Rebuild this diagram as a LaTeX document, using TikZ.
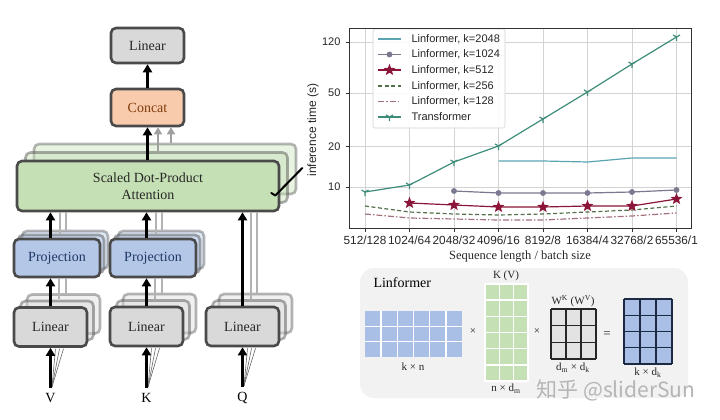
\documentclass[tikz,border=0pt]{standalone}
\usepackage{fontspec}
\setmainfont{Liberation Serif}
\newfontfamily\sansf{Liberation Sans}
\newfontfamily\cjk{Noto Sans CJK SC}
\usetikzlibrary{arrows.meta,calc,shadows}
\definecolor{bordc}{HTML}{4A4A4A}
\definecolor{lingray}{HTML}{D9D9D9}
\definecolor{concatc}{HTML}{F8CBAD}
\definecolor{concattext}{HTML}{843C0C}
\definecolor{sdpac}{HTML}{C5E0B4}
\definecolor{projc}{HTML}{B4C7E7}
\definecolor{projtext}{HTML}{1F3864}
\definecolor{gridc}{HTML}{D3D3D3}
\definecolor{c2048}{HTML}{5BA5B3}
\definecolor{c1024}{HTML}{7B7890}
\definecolor{c512}{HTML}{8B1538}
\definecolor{c256}{HTML}{52704A}
\definecolor{c128}{HTML}{A3717C}
\definecolor{ctr}{HTML}{3E8C7A}
\definecolor{panelc}{HTML}{F2F2F2}
\definecolor{matblue}{HTML}{A9BFE6}
\definecolor{matgreen}{HTML}{C5E0B4}
\definecolor{matgray}{HTML}{E3E3E3}
\definecolor{darkgrid}{HTML}{1C2A45}
\definecolor{grayarr}{HTML}{A0A0A0}
\definecolor{wmc}{HTML}{B5B5B5}
\pgfdeclareplotmark{fstar}{%
  \pgfpathmoveto{\pgfpointpolar{90}{\pgfplotmarksize}}%
  \pgfpathlineto{\pgfpointpolar{126}{0.42\pgfplotmarksize}}%
  \pgfpathlineto{\pgfpointpolar{162}{\pgfplotmarksize}}%
  \pgfpathlineto{\pgfpointpolar{198}{0.42\pgfplotmarksize}}%
  \pgfpathlineto{\pgfpointpolar{234}{\pgfplotmarksize}}%
  \pgfpathlineto{\pgfpointpolar{270}{0.42\pgfplotmarksize}}%
  \pgfpathlineto{\pgfpointpolar{306}{\pgfplotmarksize}}%
  \pgfpathlineto{\pgfpointpolar{342}{0.42\pgfplotmarksize}}%
  \pgfpathlineto{\pgfpointpolar{18}{\pgfplotmarksize}}%
  \pgfpathlineto{\pgfpointpolar{54}{0.42\pgfplotmarksize}}%
  \pgfpathclose\pgfusepathqfillstroke}
\pgfdeclareplotmark{tridown}{%
  \pgfpathmoveto{\pgfpointorigin}\pgfpathlineto{\pgfpointpolar{270}{\pgfplotmarksize}}%
  \pgfpathmoveto{\pgfpointorigin}\pgfpathlineto{\pgfpointpolar{30}{\pgfplotmarksize}}%
  \pgfpathmoveto{\pgfpointorigin}\pgfpathlineto{\pgfpointpolar{150}{\pgfplotmarksize}}%
  \pgfusepathqstroke}
\begin{document}
\begin{tikzpicture}[x=1pt,y=-1pt,
  lbox/.style={draw=bordc, line width=2.6pt, rounded corners=5pt, inner sep=0pt,
    font=\fontsize{14}{17}\selectfont, align=center, text=black!85},
  shad/.style 2 args={copy shadow={shadow xshift=#2, shadow yshift=#2, opacity=.4},
    copy shadow={shadow xshift=#1, shadow yshift=#1, opacity=.45}},
  arr/.style={line width=2.6pt, -{Triangle[length=8pt,width=9pt]}},
  garr/.style={line width=2.2pt, draw=grayarr, -{Triangle[length=7pt,width=8pt]}},
  gl/.style={line width=2pt, draw=grayarr!80},
  fan/.style={line width=.6pt, draw=black!60},
  lab/.style={font=\fontsize{14}{14}\selectfont},
  gridl/.style={draw=gridc, line width=.7pt},
  tick/.style={draw=black!80, line width=.7pt},
  sans10/.style={font=\sansf\fontsize{11}{11}\selectfont, text=black!85},
  sansx/.style={font=\sansf\fontsize{11.8}{11.8}\selectfont, text=black!85},
  sans11/.style={font=\sansf\fontsize{11}{11}\selectfont, text=black!85},
  series/.style={line width=1.2pt},
  mlab/.style={font=\fontsize{11}{11}\selectfont, text=black!85},
]
\useasboundingbox (0,0) rectangle (720,420);

% ---------------- left: Linformer multi-head attention ----------------
\node[lbox, fill=lingray, minimum width=73pt, minimum height=35pt] (lintop) at (147.5,45.5) {Linear};
\node[lbox, fill=concatc, text=concattext, minimum width=73pt, minimum height=37pt] (concat) at (147.5,107.5) {Concat};
\node[lbox, fill=sdpac, minimum width=262pt, minimum height=50pt, shad={8.5pt}{17pt}] (sdpa) at (148,186) {Scaled Dot-Product\\Attention};
\node[lbox, fill=projc, text=projtext, minimum width=86pt, minimum height=38pt, shad={4pt}{8pt}] (projV) at (57,258) {Projection};
\node[lbox, fill=projc, text=projtext, minimum width=86pt, minimum height=38pt, shad={4pt}{8pt}] (projK) at (153,258) {Projection};
\node[lbox, fill=lingray, minimum width=73pt, minimum height=39pt, shad={6.5pt}{13pt}] (linV) at (50.5,327) {Linear};
\node[lbox, fill=lingray, minimum width=73pt, minimum height=39pt, shad={6.5pt}{13pt}] (linK) at (146.5,326.5) {Linear};
\node[lbox, fill=lingray, minimum width=73pt, minimum height=39pt, shad={6.5pt}{13pt}] (linQ) at (242.5,326.5) {Linear};
\node[lab] (vlab) at (50.5,398) {V};
\node[lab] (klab) at (146.5,398) {K};
\node[lab] (qlab) at (242.5,398) {Q};

% gray copies of the connectors
\foreach \n/\p in {linV/projV, linK/projK}{
  \draw[gl] ($(\n.north)+(8.5,-7)$) -- ($(\n.north |- \p.south)+(8.5,0)$);
  \draw[gl] ($(\n.north)+(15,-12)$) -- ($(\n.north |- \p.south)+(15,0)$);
  \draw[gl] ($(\n.north |- \p.north)+(9,-4)$) -- ($(\n.north |- sdpa.south)+(9,0)$);
  \draw[gl] ($(\n.north |- \p.north)+(15.5,-8)$) -- ($(\n.north |- sdpa.south)+(15.5,0)$);
}
\draw[gl] ($(linQ.north)+(8,-7)$) -- ($(linQ.north |- sdpa.south)+(8,0)$);
\draw[gl] ($(linQ.north)+(14.5,-12)$) -- ($(linQ.north |- sdpa.south)+(14.5,0)$);
\draw[garr] ($(concat.south |- sdpa.north)+(10.5,-9)$) -- ($(concat.south)+(10.5,0)$);
\draw[garr] ($(concat.south |- sdpa.north)+(23.5,-17)$) -- ($(concat.south)+(23.5,0)$);
\foreach \l/\n in {vlab/linV, klab/linK, qlab/linQ}{
  \foreach \d in {5,9,13}{
    \draw[fan] ($(\l.north)+(1.5,-3)$) -- ($(\n.south)+(\d,1)$);
  }
}

% black connectors
\draw[arr] ($(vlab.north)+(0,-2)$) -- (linV.south);
\draw[arr] ($(klab.north)+(0,-2)$) -- (linK.south);
\draw[arr] ($(qlab.north)+(0,-2)$) -- (linQ.south);
\draw[arr] (linV.north) -- (linV.north |- projV.south);
\draw[arr] (linK.north) -- (linK.north |- projK.south);
\draw[arr] (linV.north |- projV.north) -- (linV.north |- sdpa.south);
\draw[arr] (linK.north |- projK.north) -- (linK.north |- sdpa.south);
\draw[arr] (linQ.north) -- (linQ.north |- sdpa.south);
\draw[arr] (concat.south |- sdpa.north) -- (concat.south);
\draw[arr] (concat.north) -- (lintop.south);
\draw[line width=2pt, line cap=round, line join=round] ($(sdpa.east)+(-9,7)$) -- ($(sdpa.east)+(-5,9.5)$) -- ($(sdpa.east)+(22,-18)$);

% ---------------- right top: inference-time chart ----------------
\foreach \x in {365,409.5,454,498.5,543,587.5,632,676.5}{
  \draw[gridl] (\x,28) -- (\x,228);
  \draw[tick] (\x,228) -- (\x,231.5);
}
\foreach \y in {42,93,146.5,187}{
  \draw[gridl] (349,\y) -- (691,\y);
  \draw[tick] (345.5,\y) -- (349,\y);
}
\node[sans10, anchor=east] (yt120) at (344,42) {120};
\node[sans10, anchor=east] (yt50) at (344,93) {50};
\node[sans10, anchor=east] (yt20) at (344,146.5) {20};
\node[sans10, anchor=east] (yt10) at (344,187) {10};
\foreach \x/\t [count=\i] in {365/512\slash128,409.5/1024\slash64,454/2048\slash32,498.5/4096\slash16,543/8192\slash8,587.5/16384\slash4,632/32768\slash2,676.5/65536\slash1}{
  \node[sansx] (xt\i) at (\x,240.5) {\t};
}
\node[font=\sansf\fontsize{12}{12}\selectfont, text=black!85, rotate=90] (ylab) at (313,130) {inference time (s)};
\node[font=\fontsize{12.5}{12.5}\selectfont, text=black!85] (xlab) at (520,257) {Sequence length / batch size};

\draw[series, c128, dash pattern=on 6pt off 2pt on 1.5pt off 2pt] plot coordinates {(365,214) (409.5,218) (454,219) (498.5,220) (543,220) (587.5,218) (632,216) (676.5,213)};
\draw[series, c256, dash pattern=on 4pt off 2.5pt] plot coordinates {(365,206) (409.5,212) (454,214) (498.5,215) (543,214) (587.5,212) (632,210) (676.5,206)};
\draw[series, c512] plot[mark=fstar, mark size=4.5pt, mark options={fill=c512}] coordinates {(409.5,203) (454,205) (498.5,207) (543,207) (587.5,206) (632,206) (676.5,199)};
\draw[series, c1024] plot[mark=*, mark size=2.3pt, mark options={fill=c1024}] coordinates {(454,191) (498.5,193) (543,193) (587.5,193) (632,192) (676.5,190)};
\draw[series, c2048] plot coordinates {(498.5,161) (543,161) (587.5,162) (632,158) (676.5,158)};
\draw[series, ctr] plot[mark=tridown, mark size=4pt] coordinates {(365,192) (409.5,185) (454,162) (498.5,146) (543,119) (587.5,92) (632,64) (676.5,37)};

% legend
\draw[draw=gridc, fill=white, fill opacity=.9, rounded corners=2pt, line width=.6pt] (373,29) rectangle (505,128);
\draw[series, c2048] plot coordinates {(378,39) (401,39)};
\draw[series, c1024] plot[mark=*, mark size=2.3pt, mark indices={2}, mark options={fill=c1024}] coordinates {(378,54.5) (389.5,54.5) (401,54.5)};
\draw[series, c512] plot[mark=fstar, mark size=4.5pt, mark indices={2}, mark options={fill=c512}] coordinates {(378,70) (389.5,70) (401,70)};
\draw[series, c256, dash pattern=on 4pt off 2.5pt] plot coordinates {(378,86) (401,86)};
\draw[series, c128, dash pattern=on 6pt off 2pt on 1.5pt off 2pt] plot coordinates {(378,101.5) (401,101.5)};
\draw[series, ctr] plot[mark=tridown, mark size=4pt, mark indices={2}] coordinates {(378,117) (389.5,117) (401,117)};
\node[sans11, anchor=west] (lg1) at (408,39) {Linformer, k=2048};
\node[sans11, anchor=west] (lg2) at (408,54.5) {Linformer, k=1024};
\node[sans11, anchor=west] (lg3) at (408,70) {Linformer, k=512};
\node[sans11, anchor=west] (lg4) at (408,86) {Linformer, k=256};
\node[sans11, anchor=west] (lg5) at (408,101.5) {Linformer, k=128};
\node[sans11, anchor=west] (lg6) at (408,117) {Transformer};

\draw[draw=black!80, line width=.9pt] (349,28) rectangle (691,228);

% ---------------- right bottom: Linformer projection panel ----------------
\fill[panelc, rounded corners=14pt] (360,268) rectangle (688,398);
\node[font=\fontsize{14}{14}\selectfont, anchor=west] (ltitle) at (370,283) {Linformer};

\fill[matblue] (365,311) rectangle (462,357);
\foreach \i in {1,...,5} \draw[white, line width=1.4pt] ({365+\i*97/6},311) -- ++(0,46);
\foreach \j in {1,2} \draw[white, line width=1.4pt] (365,{311+\j*46/3}) -- ++(97,0);

\fill[matgreen] (485,284) rectangle (528,381);
\draw[white, line width=1.4pt] (485,284) rectangle (528,381);
\foreach \i in {1,2} \draw[white, line width=1.4pt] ({485+\i*43/3},284) -- ++(0,97);
\foreach \j in {1,...,5} \draw[white, line width=1.4pt] (485,{284+\j*97/6}) -- ++(43,0);

\fill[matgray] (551,309) rectangle (596,359);
\foreach \i in {0,...,3} \draw[black!85, line width=1.3pt] ({551+\i*15},309) -- ++(0,50);
\foreach \j in {0,...,3} \draw[black!85, line width=1.3pt] (551,{309+\j*50/3}) -- ++(45,0);

\fill[matblue] (624,299) rectangle (672,364);
\foreach \i in {0,...,3} \draw[darkgrid, line width=1.3pt] ({624+\i*16},299) -- ++(0,65);
\foreach \j in {0,...,4} \draw[darkgrid, line width=1.3pt] (624,{299+\j*65/4}) -- ++(48,0);

\node[mlab] (m1) at (413,367) {k × n};
\node[mlab] (m2) at (506,276) {K (V)};
\node[mlab] (m3) at (506,389) {n × d\textsubscript{m}};
\node[mlab] (m4) at (573,301) {W\textsuperscript{K} (W\textsuperscript{V})};
\node[mlab] (m5) at (573,368) {d\textsubscript{m} × d\textsubscript{k}};
\node[mlab] (m6) at (648,373) {k × d\textsubscript{k}};
\node[mlab] (op1) at (473,332) {×};
\node[mlab] (op2) at (537,332) {×};
\node[mlab, font=\fontsize{13}{13}\selectfont] (op3) at (607,335) {=};

\node[font=\cjk\fontsize{21}{21}\selectfont, text=wmc] (wm) at (616,390) {知乎 @sliderSun};
\end{tikzpicture}
\end{document}
